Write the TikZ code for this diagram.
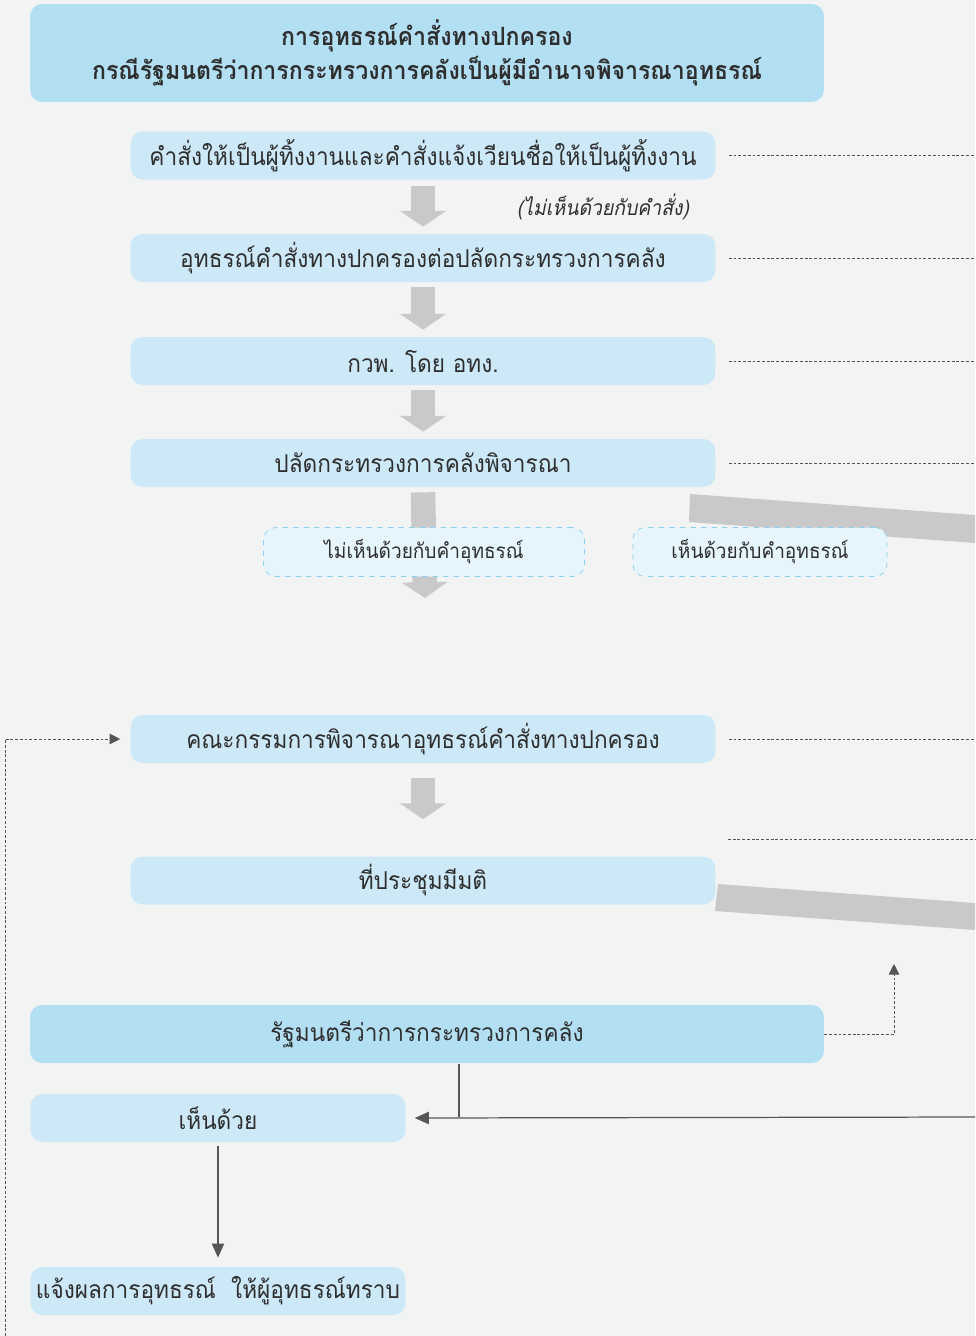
\documentclass[tikz,border=0pt]{standalone}
\usepackage{fontspec}
\setmainfont[Script=Thai,FakeStretch=0.92]{Loma}
\usetikzlibrary{arrows.meta}
\definecolor{pagebg}{HTML}{F2F4F4}
\definecolor{headblue}{HTML}{B3DFF3}
\definecolor{boxblue}{HTML}{CDE9F7}
\definecolor{paleblue}{HTML}{E6F5FC}
\definecolor{edgeblue}{HTML}{8ECFEF}
\definecolor{bandgray}{HTML}{C9C9C9}
\definecolor{inkgray}{HTML}{2E2E2E}
\definecolor{linegray}{HTML}{555555}
\tikzset{
  stepbox/.style={fill=boxblue,rounded corners=0.24cm,minimum width=11.7cm,minimum height=0.96cm,inner sep=0pt,text=inkgray,font=\fontsize{14}{17}\selectfont},
  headbox/.style={stepbox,fill=headblue,minimum width=15.88cm},
  choicebox/.style={stepbox,fill=paleblue,draw=edgeblue,dashed,minimum height=0.98cm,font=\fontsize{11.8}{15}\selectfont},
  flowarrow/.style={draw=bandgray,line width=14pt,-{Triangle[width=26pt,length=9pt]}},
  guide/.style={draw=linegray,line width=0.5pt,dash pattern=on 1.6pt off 1.1pt},
  feedback/.style={guide,-{Triangle[width=6pt,length=6pt]}},
  solidlink/.style={draw=linegray,line width=0.7pt,-{Triangle[width=7pt,length=8pt]}}
}
\begin{document}
\begin{tikzpicture}[x=0.02cm,y=-0.02cm]
    \fill[pagebg] (0,0) rectangle (975,1336);
    \useasboundingbox (0,0) rectangle (975,1336);
    %% Title
    \node[headbox,minimum height=1.96cm,align=center,font=\bfseries\fontsize{14.3}{19}\selectfont] (title) at (427,53)
      {การอุทธรณ์คำสั่งทางปกครอง\\กรณีรัฐมนตรีว่าการกระทรวงการคลังเป็นผู้มีอำนาจพิจารณาอุทธรณ์};
    %% Main steps
    \node[stepbox] (order) at (423,155.5) {คำสั่งให้เป็นผู้ทิ้งงานและคำสั่งแจ้งเวียนชื่อให้เป็นผู้ทิ้งงาน};
    \node[stepbox] (appeal) at (423,258) {อุทธรณ์คำสั่งทางปกครองต่อปลัดกระทรวงการคลัง};
    \node[stepbox] (board) at (423,361) {กวพ. โดย อทง.};
    \node[stepbox] (permsec) at (423,463) {ปลัดกระทรวงการคลังพิจารณา};
    \node[font=\itshape\fontsize{12}{15}\selectfont,text=inkgray] (objection) at (603,207) {(ไม่เห็นด้วยกับคำสั่ง)};
    \draw[flowarrow] ([yshift=-0.12cm]order.south) -- ([yshift=0.14cm]appeal.north);
    \draw[flowarrow] ([yshift=-0.1cm]appeal.south) -- ([yshift=0.14cm]board.north);
    \draw[flowarrow] ([yshift=-0.1cm]board.south) -- ([yshift=0.14cm]permsec.north);
    %% Split after permanent secretary
    \coordinate (splittip) at (425,598);
    \draw[flowarrow] ([yshift=-0.1cm]permsec.south) -- (splittip);
    \fill[bandgray] (690,494) -- (975,515) -- (975,543) -- (689,522) -- cycle;
    \node[choicebox,minimum width=6.42cm] (disagree) at (424,552) {ไม่เห็นด้วยกับคำอุทธรณ์};
    \node[choicebox,minimum width=5.08cm] (agreeappeal) at (760,552) {เห็นด้วยกับคำอุทธรณ์};
    %% Committee
    \node[stepbox] (committee) at (423,739) {คณะกรรมการพิจารณาอุทธรณ์คำสั่งทางปกครอง};
    \node[stepbox] (meeting) at (423,880.5) {ที่ประชุมมีมติ};
    \draw[flowarrow] ([yshift=-0.3cm]committee.south) -- ([yshift=0.74cm]meeting.north);
    \fill[bandgray] (718,884) -- (975,903) -- (975,930) -- (715,911) -- cycle;
    %% Dashed guides to the right
    \foreach \n in {order,appeal,board,permsec,committee}
        \draw[guide] ([xshift=0.26cm]\n.east) -- (975,0 |- \n.east);
    \draw[guide] (728,839) -- (975,839);
    %% Minister
    \node[headbox,minimum height=1.16cm] (minister) at (427,1034) {รัฐมนตรีว่าการกระทรวงการคลัง};
    \node[stepbox,minimum width=7.5cm] (agree) at (218,1118) {เห็นด้วย};
    \node[stepbox,minimum width=7.5cm] (notify) at (218,1291) {แจ้งผลการอุทธรณ์~~ให้ผู้อุทธรณ์ทราบ};
    \coordinate (upend) at (894,964);
    \draw[feedback] (minister.east) -| (upend);
    \coordinate (rightin) at (975,1117);
    \coordinate (drop) at (459,1117);
    \draw[draw=linegray,line width=0.7pt] (459,1064) -- (drop);
    \draw[solidlink] (rightin) -- ([xshift=0.18cm]agree.east);
    \draw[solidlink] ([yshift=-0.08cm]agree.south) -- ([yshift=0.18cm]notify.north);
    %% Loop back to committee
    \coordinate (loopstart) at (5,1336);
    \draw[feedback] (loopstart) |- ([xshift=-0.2cm]committee.west);
\end{tikzpicture}
\end{document}
